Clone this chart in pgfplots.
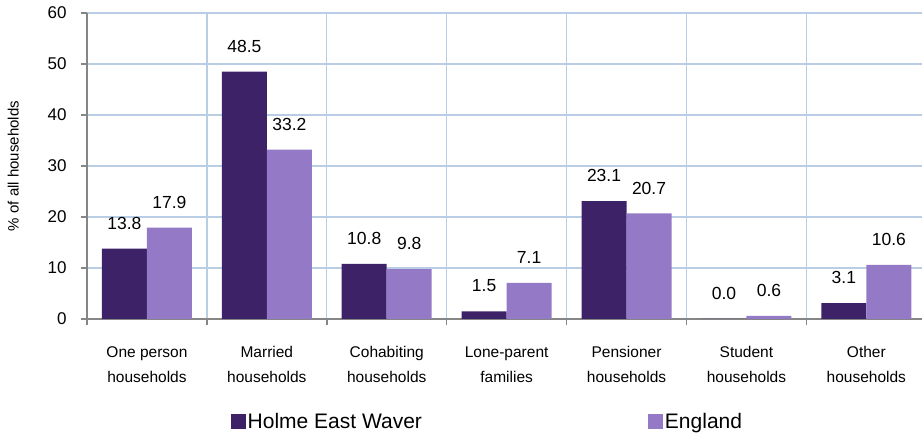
\documentclass[border=0pt]{standalone}
\usepackage{fontspec}
\setmainfont{Liberation Sans}
\usepackage{pgfplots}
\pgfplotsset{compat=1.18}
\definecolor{dark}{HTML}{3E2268}
\definecolor{light}{HTML}{9479C7}
\definecolor{gridc}{HTML}{B9CDE5}
\definecolor{axc}{HTML}{868686}
\begin{document}
\begin{tikzpicture}
\begin{axis}[
  name=ax,
  scale only axis, width=839.3pt, height=306pt,
  xmin=-0.5, xmax=6.5, ymin=0, ymax=60,
  ybar=0pt, bar width=45pt,
  axis x line*=bottom, axis y line*=left,
  axis line style={draw=axc, line width=1.5pt, -},
  tick align=outside,
  major tick length=6pt,
  tick style={draw=axc, line width=1.5pt},
  ytick={0,10,...,60},
  ymajorgrids, xmajorgrids,
  grid style={draw=gridc, line width=1.4pt},
  xtick={-0.5,0.5,...,6.5},
  xticklabels={},
  extra x ticks={0,1,2,3,4,5,6},
  extra x tick labels={One person\\households, Married\\households, Cohabiting\\households, Lone-parent\\families, Pensioner\\households, Student\\households, Other\\households},
  extra x tick style={major tick length=0pt, xmajorgrids=false,
    xticklabel style={align=center, font=\fontsize{15.5}{25}\selectfont, yshift=-24pt}},
  yticklabel style={font=\fontsize{17}{20}\selectfont, xshift=-11pt},
  /pgf/number format/assume math mode=true,
  ylabel={\% of all households},
  ylabel style={font=\fontsize{15}{18}\selectfont},
  ylabel shift=22pt,
  nodes near coords={\pgfmathprintnumber[fixed,fixed zerofill,precision=1]{\pgfplotspointmeta}},
  every node near coord/.append style={font=\fontsize{17.5}{20}\selectfont, anchor=south, inner sep=0pt, yshift=19pt, text=black},
  legend columns=2,
  legend style={at={(0.171,-0.300)}, anchor=north west, draw=none, fill=none,
    font=\fontsize{21}{24}\selectfont, inner sep=0pt,
    /tikz/every even column/.append style={column sep=224pt}},
  legend image code/.code={\fill[#1,draw=none] (0pt,-7.5pt) rectangle (15pt,7.5pt);},
]
\addplot[fill=dark, draw=none] coordinates {(0,13.8) (1,48.5) (2,10.8) (3,1.5) (4,23.1) (5,0.0) (6,3.1)};
\addplot[fill=light, draw=none] coordinates {(0,17.9) (1,33.2) (2,9.8) (3,7.1) (4,20.7) (5,0.6) (6,10.6)};
\legend{Holme East Waver, England}
\end{axis}
\pgfresetboundingbox
\path[use as bounding box] ([xshift=-87pt,yshift=-117pt]ax.south west) rectangle ([xshift=835pt,yshift=319pt]ax.south west);
\end{tikzpicture}
\end{document}
